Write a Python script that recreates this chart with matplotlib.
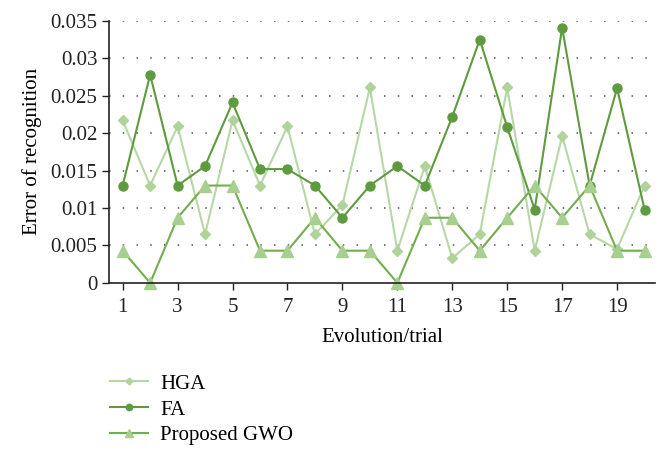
import matplotlib
matplotlib.use("Agg")
import matplotlib.pyplot as plt

plt.rcParams['font.family'] = ['Liberation Serif', 'DejaVu Serif']

# trial number 1..20
trials = list(range(1, 21))

# error of recognition
hga = [0.0217, 0.0130, 0.0209, 0.0065, 0.0217, 0.0130, 0.0209, 0.0065, 0.0104, 0.0261,
       0.0043, 0.0156, 0.0033, 0.0065, 0.0261, 0.0043, 0.0196, 0.0065, 0.0045, 0.0130]
fa = [0.0130, 0.0278, 0.0130, 0.0156, 0.0241, 0.0152, 0.0152, 0.0130, 0.0087, 0.0130,
      0.0156, 0.0130, 0.0222, 0.0325, 0.0208, 0.0098, 0.0341, 0.0130, 0.0260, 0.0098]
gwo = [0.0043, 0.0000, 0.0087, 0.0130, 0.0130, 0.0043, 0.0043, 0.0087, 0.0043, 0.0043,
       0.0000, 0.0087, 0.0087, 0.0043, 0.0087, 0.0130, 0.0087, 0.0130, 0.0043, 0.0043]

xticks = [1, 3, 5, 7, 9, 11, 13, 15, 17, 19]
yticks = [0, 0.005, 0.01, 0.015, 0.02, 0.025, 0.03, 0.035]
ylabels = ['0', '0.005', '0.01', '0.015', '0.02', '0.025', '0.03', '0.035']

fig = plt.figure(figsize=(6.7, 4.63), dpi=100)
ax = fig.add_axes([0.163, 0.389, 0.815, 0.566])

# dotted grid first so the lines sit on top
for y in yticks[1:]:
    ax.axhline(y, color='#555555', linestyle=(0, (1, 8)), linewidth=1.1, zorder=0)

ax.plot(trials, hga, color='#b7d7a6', marker='D', markersize=5,
        markerfacecolor='#b0d39c', markeredgecolor='#b0d39c', linewidth=1.5, label='HGA')
ax.plot(trials, fa, color='#5e9b3f', marker='o', markersize=6.5,
        markerfacecolor='#5e9b3f', markeredgecolor='#5e9b3f', linewidth=1.5, label='FA')
ax.plot(trials, gwo, color='#72ad4e', marker='^', markersize=9,
        markerfacecolor='#a7cf8f', markeredgecolor='#a7cf8f', linewidth=1.5,
        label='Proposed GWO', clip_on=False)

ax.set_xlim(0.51, 20.39)
ax.set_ylim(0, 0.035)
ax.set_xticks(xticks)
ax.set_yticks(yticks)
ax.set_yticklabels(ylabels)

ax.spines['top'].set_visible(False)
ax.spines['right'].set_visible(False)
ax.spines['left'].set_color('#222222')
ax.spines['bottom'].set_color('#222222')
ax.spines['left'].set_linewidth(1.2)
ax.spines['bottom'].set_linewidth(1.2)
ax.tick_params(axis='both', direction='out', length=5, width=1, labelsize=15, colors='#222222')
ax.tick_params(axis='x', pad=6)

ax.set_xlabel('Evolution/trial', fontsize=15, labelpad=8)
ax.set_ylabel('Error of recognition', fontsize=15, labelpad=6)

ax.legend(loc='upper left', bbox_to_anchor=(0.152, 0.21), bbox_transform=fig.transFigure,
          frameon=False, fontsize=15, handlelength=1.8, labelspacing=0.3, markerscale=0.7,
          handletextpad=0.6, borderaxespad=0)

plt.savefig('out.png', dpi=100)
